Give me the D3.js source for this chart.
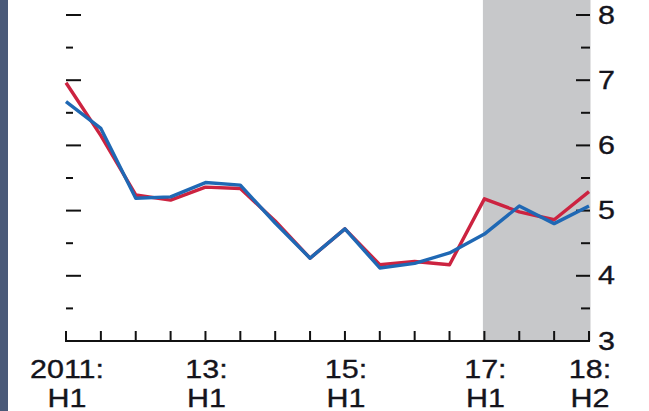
<!DOCTYPE html>
<html>
<head>
<meta charset="utf-8">
<script src="https://cdn.jsdelivr.net/npm/d3@7.9.0/dist/d3.min.js"></script>
<style>
  html, body { margin: 0; padding: 0; background: #fff; }
  text { font-family: "Liberation Sans", Arial, sans-serif; fill: #14141c; stroke: #14141c; stroke-width: 0.35px; }
</style>
</head>
<body>
<svg id="chart" width="649" height="411"></svg>
<script>
// half-year periods, 2011:H1 .. 2018:H2
const periods = ['2011H1','2011H2','2012H1','2012H2','2013H1','2013H2','2014H1','2014H2',
  '2015H1','2015H2','2016H1','2016H2','2017H1','2017H2','2018H1','2018H2'];
const redSeries  = [6.96, 6.15, 5.24, 5.16, 5.36, 5.34, 4.84, 4.27, 4.72, 4.17, 4.22, 4.17, 5.18, 4.98, 4.86, 5.29];
const blueSeries = [6.67, 6.26, 5.19, 5.21, 5.43, 5.39, 4.81, 4.27, 4.72, 4.12, 4.19, 4.35, 4.64, 5.07, 4.80, 5.07];
const xLabels = [
  { i: 0, top: '2011:', bottom: 'H1' },
  { i: 4, top: '13:', bottom: 'H1' },
  { i: 8, top: '15:', bottom: 'H1' },
  { i: 12, top: '17:', bottom: 'H1' },
  { i: 15, top: '18:', bottom: 'H2' }
];
const yTicks = [3, 4, 5, 6, 7, 8];
const yMinor = [3.5, 4.5, 5.5, 6.5, 7.5];
const shadeFrom = 12; // 2017:H1 onwards

let svg = d3.select('#chart');
let x = d3.scaleLinear().domain([0, periods.length - 1]).range([66, 589]);
let y = d3.scaleLinear().domain([3, 8]).range([341, 15]);

// left frame strip
svg.append('rect').attr('x', 0).attr('y', 0).attr('width', 8).attr('height', 411).attr('fill', '#4a5a79');

// shaded projection period
svg.append('rect')
  .attr('x', x(shadeFrom) - 1.5)
  .attr('y', 0)
  .attr('width', x(periods.length - 1) + 1.5 - (x(shadeFrom) - 1.5))
  .attr('height', y(3))
  .attr('fill', '#c7c8ca');

// left ticks (no labels)
let leftAxis = svg.append('g');
yTicks.slice(1).forEach((v) => {
  leftAxis.append('line').attr('x1', 66).attr('x2', 81).attr('y1', y(v)).attr('y2', y(v))
    .attr('stroke', '#111').attr('stroke-width', 2);
});
yMinor.forEach((v) => {
  leftAxis.append('line').attr('x1', 66).attr('x2', 73).attr('y1', y(v)).attr('y2', y(v))
    .attr('stroke', '#111').attr('stroke-width', 2);
});

// right ticks + labels
let rightAxis = svg.append('g');
let xr = x(periods.length - 1) + 1;
yTicks.forEach((v) => {
  if (v > 3) {
    rightAxis.append('line').attr('x1', xr - 14).attr('x2', xr).attr('y1', y(v)).attr('y2', y(v))
      .attr('stroke', '#111').attr('stroke-width', 2);
  }
  rightAxis.append('g').attr('transform', `translate(${xr + 8},${y(v) + 8.5})`)
    .append('text').attr('transform', 'scale(1.22,1)')
    .style('font-size', '25px').text(v);
});
yMinor.forEach((v) => {
  rightAxis.append('line').attr('x1', xr - 9).attr('x2', xr).attr('y1', y(v)).attr('y2', y(v))
    .attr('stroke', '#111').attr('stroke-width', 2);
});

// x axis baseline and ticks
let xAxis = svg.append('g');
xAxis.append('line').attr('x1', 65).attr('x2', xr).attr('y1', y(3)).attr('y2', y(3))
  .attr('stroke', '#111').attr('stroke-width', 2);
periods.forEach((p, i) => {
  xAxis.append('line').attr('x1', x(i)).attr('x2', x(i)).attr('y1', y(3)).attr('y2', y(3) - 10)
    .attr('stroke', '#111').attr('stroke-width', 2);
});
xLabels.forEach((d) => {
  let g = xAxis.append('g').attr('transform', `translate(${x(d.i) + 1},0)`);
  g.append('text').attr('transform', 'translate(0,377.5) scale(1.22,1)')
    .attr('text-anchor', 'middle').style('font-size', '25px').text(d.top);
  g.append('text').attr('transform', 'translate(0,407) scale(1.22,1)')
    .attr('text-anchor', 'middle').style('font-size', '25px').text(d.bottom);
});

// series lines
let line = d3.line().x((d, i) => x(i)).y((d) => y(d));
svg.append('path').datum(redSeries).attr('d', line)
  .attr('fill', 'none').attr('stroke', '#cc2340').attr('stroke-width', 3.4).attr('stroke-linejoin', 'round');
svg.append('path').datum(blueSeries).attr('d', line)
  .attr('fill', 'none').attr('stroke', '#1f68b4').attr('stroke-width', 3.4).attr('stroke-linejoin', 'round');
</script>
</body>
</html>
